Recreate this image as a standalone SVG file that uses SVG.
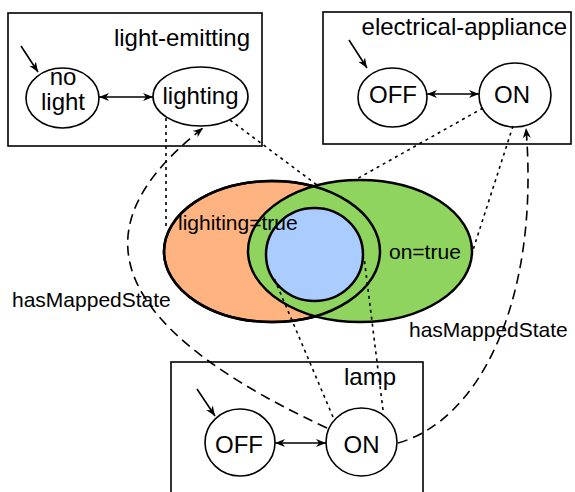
<svg xmlns="http://www.w3.org/2000/svg" width="575" height="492" viewBox="0 0 575 492">
<defs>
<style>
text{font-family:"Liberation Sans",Arial,sans-serif;fill:#000}
.lbl{font-size:24px}
.sm{font-size:21px}
.box{fill:#fff;stroke:#000;stroke-width:1.6}
.st{fill:#fff;stroke:#000;stroke-width:1.6}
.set{stroke:#000;stroke-width:2.5}
.arr{fill:none;stroke:#000;stroke-width:1.6}
.dot{fill:none;stroke:#000;stroke-width:1.6;stroke-dasharray:3,4}
.dash{fill:none;stroke:#000;stroke-width:1.6;stroke-dasharray:10,6}
</style>
<marker id="ah" viewBox="0 0 10 10" refX="10" refY="5" markerWidth="10" markerHeight="10" markerUnits="userSpaceOnUse" orient="auto-start-reverse">
<path d="M0,1 L10,5 L0,9 L3,5 Z" fill="#000"/>
</marker>
</defs>
<g id="light-emitting">
<rect class="box" x="8" y="13" width="254" height="133"/>
<text class="lbl" x="250" y="46" text-anchor="end">light-emitting</text>
</g>
<g id="electrical-appliance">
<rect class="box" x="323" y="12" width="248" height="132"/>
<text class="lbl" x="567" y="35" text-anchor="end">electrical-appliance</text>
</g>
<g id="lamp">
<rect class="box" x="171" y="362" width="252" height="134"/>
<text class="lbl" x="370" y="385" text-anchor="middle">lamp</text>
</g>
<g id="venn">
<ellipse cx="272" cy="251.5" rx="108" ry="70.5" fill="#FFB380" class="set"/>
<ellipse cx="360" cy="251" rx="112" ry="71" fill="#8ED45F" class="set"/>
<ellipse cx="272" cy="251.5" rx="108" ry="70.5" fill="none" class="set"/>
<ellipse cx="314.5" cy="254.5" rx="48.5" ry="46.5" fill="#AACCFF" class="set"/>
<text class="sm" x="178" y="230">lighiting=true</text>
<text class="sm" x="389" y="259">on=true</text>
</g>
<g id="le-nolight">
<ellipse class="st" cx="62.5" cy="98" rx="36.5" ry="30"/>
<text class="lbl" x="63" y="85" text-anchor="middle">no</text>
<text class="lbl" x="63" y="110" text-anchor="middle">light</text>
</g>
<g id="le-lighting">
<ellipse class="st" cx="200.5" cy="96.5" rx="47.5" ry="29.5"/>
<text class="lbl" x="200.5" y="104" text-anchor="middle">lighting</text>
</g>
<g id="ea-off">
<ellipse class="st" cx="392.5" cy="97.5" rx="34.5" ry="29.5"/>
<text class="lbl" x="393" y="103" text-anchor="middle">OFF</text>
</g>
<g id="ea-on">
<ellipse class="st" cx="515" cy="95" rx="36" ry="32"/>
<text class="lbl" x="512" y="103" text-anchor="middle">ON</text>
</g>
<g id="lamp-off">
<ellipse class="st" cx="240" cy="442.5" rx="35" ry="33.5"/>
<text class="lbl" x="239" y="453" text-anchor="middle">OFF</text>
</g>
<g id="lamp-on">
<ellipse class="st" cx="361.5" cy="442" rx="35.5" ry="34"/>
<text class="lbl" x="361.5" y="453" text-anchor="middle">ON</text>
</g>
<g id="connectors">
<line class="arr" x1="21" y1="46" x2="38" y2="72" marker-end="url(#ah)"/>
<line class="arr" x1="99" y1="97" x2="153" y2="97" marker-start="url(#ah)" marker-end="url(#ah)"/>
<line class="arr" x1="349" y1="40" x2="367" y2="68" marker-end="url(#ah)"/>
<line class="arr" x1="427" y1="94" x2="479" y2="94" marker-start="url(#ah)" marker-end="url(#ah)"/>
<line class="arr" x1="197" y1="389" x2="215" y2="416" marker-end="url(#ah)"/>
<line class="arr" x1="275" y1="443" x2="326" y2="443" marker-start="url(#ah)" marker-end="url(#ah)"/>
<line class="dot" x1="166" y1="118" x2="166" y2="228"/>
<line class="dot" x1="230" y1="120" x2="317" y2="185"/>
<line class="dot" x1="483" y1="108" x2="355" y2="180"/>
<line class="dot" x1="513" y1="126" x2="473" y2="250"/>
<line class="dot" x1="333" y1="417" x2="274" y2="278"/>
<line class="dot" x1="383" y1="410" x2="364" y2="257"/>
<path class="dash" d="M327,428 C55,302 112,200 203,128" marker-end="url(#ah)"/>
<path class="dash" d="M398,443 C480,420 540,300 526,128" marker-end="url(#ah)"/>
<text class="sm" x="12" y="307">hasMappedState</text>
<text class="sm" x="409" y="337">hasMappedState</text>
</g>
</svg>
